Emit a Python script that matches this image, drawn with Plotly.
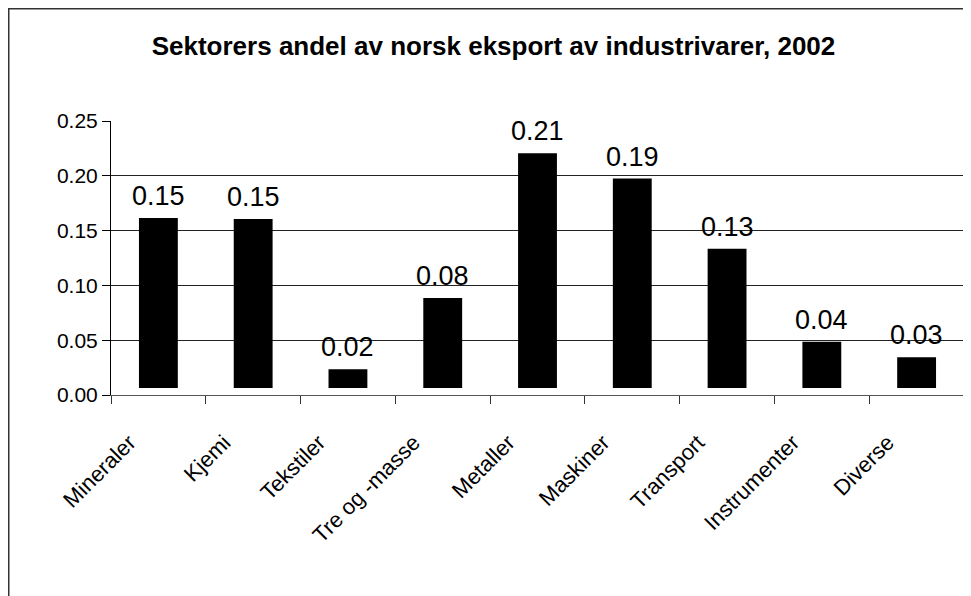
import plotly.graph_objects as go

categories = ["Mineraler", "Kjemi", "Tekstiler", "Tre og -masse", "Metaller",
              "Maskiner", "Transport", "Instrumenter", "Diverse"]
base_offset = 0.0065
shares = [0.1549, 0.154, 0.017, 0.082, 0.214, 0.191, 0.127, 0.042, 0.028]
labels = ["0.15", "0.15", "0.02", "0.08", "0.21", "0.19", "0.13", "0.04", "0.03"]
y_ticks = [0.00, 0.05, 0.10, 0.15, 0.20, 0.25]
title = "Sektorers andel av norsk eksport av industrivarer, 2002"

# the page body adds an 8px offset; margins compensate for it
W, H = 971, 596
ml, mr, mt, mb = 103, 15, 113, 209
pw, ph = W - ml - mr, H - mt - mb

FONT = "Liberation Sans, Arial, sans-serif"

fig = go.Figure()
fig.add_trace(go.Bar(
    x=categories, y=shares, base=[base_offset] * len(shares),
    marker=dict(color="#000000", line=dict(width=0)),
    width=0.41, hoverinfo="skip", showlegend=False,
))

for c, s, t in zip(categories, shares, labels):
    fig.add_annotation(x=c, y=base_offset + s, text=t, showarrow=False,
                       yanchor="bottom", yshift=5,
                       font=dict(family=FONT, size=27, color="#000000"))

# outer chart frame
fig.add_shape(type="rect", xref="paper", yref="paper",
              x0=(0.5 - ml) / pw, x1=(W + 50 - ml) / pw,
              y0=(H - mb - (H + 50)) / ph, y1=(H - mb - 0.5) / ph,
              line=dict(color="#333333", width=2), fillcolor="rgba(0,0,0,0)")

fig.update_layout(
    width=W, height=H,
    margin=dict(l=ml, r=mr, t=mt, b=mb),
    paper_bgcolor="white", plot_bgcolor="white",
    title=dict(text="<b>" + title + "</b>", x=0.5, xref="container", xanchor="center",
               y=1 - 38 / H, yref="container", yanchor="middle",
               font=dict(family=FONT, size=26, color="#000000")),
    xaxis=dict(
        type="category", showgrid=False, showline=True, linecolor="#555555", linewidth=1,
        ticks="outside", tickson="boundaries", ticklen=8, tickcolor="#333333",
        tickangle=-45, tickfont=dict(family=FONT, size=22, color="#000000"),
        ticklabelshift=-29, ticklabelstandoff=25,
    ),
    yaxis=dict(
        range=[0, 0.25], tickvals=y_ticks, tickformat=".2f",
        showgrid=True, gridcolor="#222222", gridwidth=1,
        showline=True, linecolor="#000000", linewidth=1,
        ticks="outside", ticklen=8, tickcolor="#000000",
        tickfont=dict(family=FONT, size=21, color="#000000"),
        zeroline=False,
    ),
)

fig.write_html("out.html")
